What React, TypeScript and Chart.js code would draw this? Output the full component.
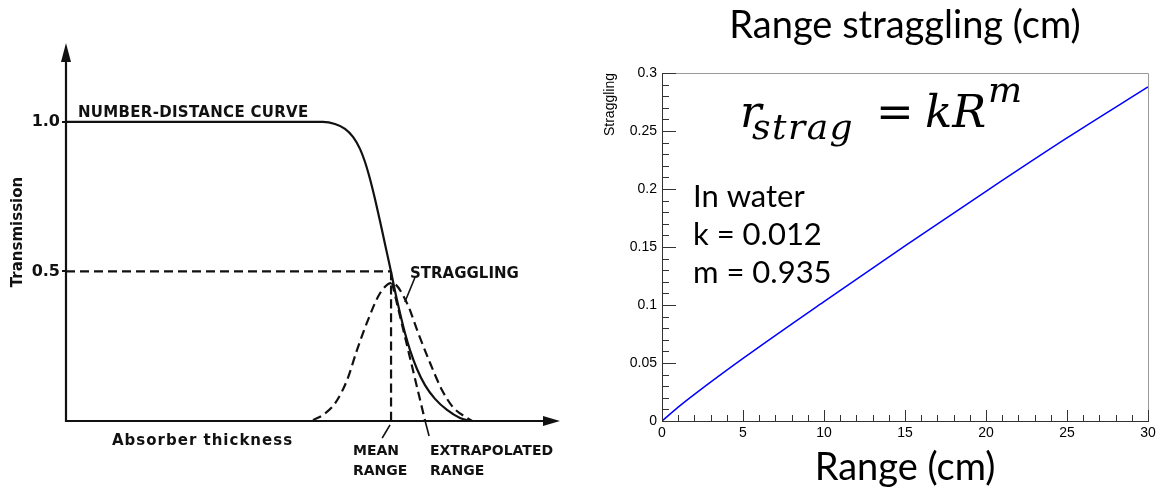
import React, { useEffect, useRef } from "react";
import { Chart, registerables } from "chart.js";

Chart.register(...registerables);

// ---------- Left panel: schematic (abstract units: thickness 0-100, transmission 0-1.26) ----------
const numberDistanceX = [0, 52.0, 54.45, 56.48, 58.1, 59.51, 60.53, 61.54, 62.55, 63.56, 64.57, 65.59, 66.6, 67.61, 68.62, 69.64, 71.05, 72.67, 74.7, 77.13, 79.76, 81.78];
const numberDistanceY = [1.0, 1.0, 0.993, 0.977, 0.95, 0.91, 0.866, 0.809, 0.742, 0.669, 0.592, 0.515, 0.435, 0.361, 0.294, 0.237, 0.174, 0.12, 0.074, 0.037, 0.01, 0];
const stragglingCurveX = [50.0, 52.0, 54.5, 56.9, 58.9, 60.9, 63.6, 66.0, 69.0, 71.3, 73.7, 76.1, 78.3, 81.2, 82.2];
const stragglingCurveY = [0.003, 0.02, 0.06, 0.137, 0.237, 0.328, 0.428, 0.462, 0.395, 0.294, 0.194, 0.104, 0.047, 0.01, 0];
const halfLineX = [0, 65.8];
const halfLineY = [0.5, 0.5];
const meanRangeX = [65.8, 65.8];
const meanRangeY = [0.5, 0];
const extrapolatedX = [66.0, 72.7];
const extrapolatedY = [0.462, 0];
const meanLeaderX = [65.6, 64.0];
const meanLeaderY = [-0.013, -0.057];
const extrapLeaderX = [72.7, 73.5];
const extrapLeaderY = [0, -0.05];
const stragLeaderX = [70.6, 68.6];
const stragLeaderY = [0.478, 0.398];
const transmissionTicks = [0.5, 1.0];

// ---------- Right panel: straggling vs range ----------
const rangeCm = [0, 1, 2, 5, 10, 15, 20, 25, 30];
const stragglingCm = [0, 0.012, 0.023, 0.054, 0.103, 0.151, 0.198, 0.244, 0.288];
const infoLines = ["In water", "k = 0.012", "m = 0.935"];

const toPts = (xs: number[], ys: number[]) => xs.map((x, i) => ({ x, y: ys[i] }));

const INK = "#111";

const leftAnnotations = {
  id: "leftAnnotations",
  afterDraw(chart: any) {
    const { ctx, chartArea: a } = chart;
    ctx.save();
    ctx.strokeStyle = INK;
    ctx.fillStyle = INK;
    ctx.lineWidth = 2.2;
    // y axis with arrow
    ctx.beginPath();
    ctx.moveTo(a.left, a.bottom + 1);
    ctx.lineTo(a.left, a.top + 15);
    ctx.stroke();
    ctx.beginPath();
    ctx.moveTo(a.left, a.top);
    ctx.lineTo(a.left - 5, a.top + 19);
    ctx.lineTo(a.left + 5, a.top + 19);
    ctx.closePath();
    ctx.fill();
    // x axis with arrow
    ctx.beginPath();
    ctx.moveTo(a.left, a.bottom);
    ctx.lineTo(a.right - 15, a.bottom);
    ctx.stroke();
    ctx.beginPath();
    ctx.moveTo(a.right, a.bottom);
    ctx.lineTo(a.right - 17, a.bottom - 5);
    ctx.lineTo(a.right - 17, a.bottom + 5);
    ctx.closePath();
    ctx.fill();

    // text labels
    ctx.textBaseline = "alphabetic";
    ctx.textAlign = "left";
    (ctx as any).letterSpacing = "0.3px";
    ctx.font = "bold 15px 'DejaVu Sans'";
    ctx.fillText("NUMBER-DISTANCE CURVE", 78, 117);
    (ctx as any).letterSpacing = "0px";
    ctx.fillText("STRAGGLING", 410, 278);
    ctx.font = "bold 14px 'DejaVu Sans'";
    ctx.fillText("MEAN", 353, 455);
    ctx.fillText("RANGE", 353, 475);
    ctx.fillText("EXTRAPOLATED", 430, 455);
    ctx.fillText("RANGE", 430, 475);
    (ctx as any).letterSpacing = "1px";
    ctx.font = "bold 15px 'DejaVu Sans'";
    ctx.fillText("Absorber thickness", 112, 445);
    (ctx as any).letterSpacing = "0px";
    ctx.restore();
  },
};

const rightDecor = {
  id: "rightDecor",
  afterDraw(chart: any) {
    const { ctx, chartArea: a, scales } = chart;
    const xs = scales.x;
    const ys = scales.y;
    ctx.save();
    // frame top / right
    ctx.strokeStyle = "#9a9a9a";
    ctx.lineWidth = 1;
    ctx.beginPath();
    ctx.moveTo(a.left, a.top + 0.5);
    ctx.lineTo(a.right + 0.5, a.top + 0.5);
    ctx.lineTo(a.right + 0.5, a.bottom);
    ctx.stroke();
    // inner ticks
    ctx.strokeStyle = "#333";
    ctx.beginPath();
    for (let i = 0; i <= 30; i++) {
      const y = Math.round(ys.getPixelForValue(i / 100)) + 0.5;
      const len = i % 5 === 0 ? 14 : 7;
      ctx.moveTo(a.left, y);
      ctx.lineTo(a.left + len, y);
    }
    for (let i = 0; i <= 30; i++) {
      const x = Math.round(xs.getPixelForValue(i)) + 0.5;
      const len = i % 5 === 0 ? 11 : 6;
      ctx.moveTo(x, a.bottom);
      ctx.lineTo(x, a.bottom - len);
    }
    ctx.stroke();

    // formula
    ctx.fillStyle = "#000";
    ctx.textBaseline = "alphabetic";
    ctx.textAlign = "left";
    ctx.font = "italic 45px 'DejaVu Serif'";
    ctx.fillText("r", 160, 127);
    (ctx as any).letterSpacing = "1.5px";
    ctx.font = "italic 36px 'DejaVu Serif'";
    ctx.fillText("strag", 172, 139);
    (ctx as any).letterSpacing = "0px";
    ctx.font = "45px 'DejaVu Serif'";
    ctx.fillText("=", 296, 127);
    ctx.font = "italic 45px 'DejaVu Serif'";
    ctx.fillText("kR", 345, 127);
    ctx.font = "italic 36px 'DejaVu Serif'";
    ctx.fillText("m", 408, 102);

    // info text
    ctx.font = "31px Lato";
    infoLines.forEach((t, i) => ctx.fillText(t, 113, 207 + i * 38));
    ctx.restore();
  },
};

export default function App() {
  const leftRef = useRef<HTMLCanvasElement>(null);
  const rightRef = useRef<HTMLCanvasElement>(null);

  useEffect(() => {
    const solid = (xs: number[], ys: number[], width = 2.2) => ({
      data: toPts(xs, ys),
      showLine: true,
      borderColor: INK,
      borderWidth: width,
      pointRadius: 0,
      clip: false as any,
      cubicInterpolationMode: "monotone" as const,
    });
    const dashed = (xs: number[], ys: number[]) => ({
      ...solid(xs, ys),
      borderDash: [9, 5],
    });

    const left = new Chart(leftRef.current!, {
      type: "scatter",
      data: {
        datasets: [
          solid(numberDistanceX, numberDistanceY),
          dashed(stragglingCurveX, stragglingCurveY),
          dashed(halfLineX, halfLineY),
          dashed(meanRangeX, meanRangeY),
          dashed(extrapolatedX, extrapolatedY),
          solid(meanLeaderX, meanLeaderY, 1.6),
          solid(extrapLeaderX, extrapLeaderY, 1.6),
          solid(stragLeaderX, stragLeaderY, 1.6),
        ],
      },
      options: {
        animation: false,
        responsive: false,
        events: [],
        layout: { padding: { left: 9, right: 20, top: 43, bottom: 71 } },
        plugins: { legend: { display: false }, tooltip: { enabled: false } },
        scales: {
          x: { type: "linear", display: false, min: 0, max: 100 },
          y: {
            type: "linear",
            min: 0,
            max: 1.264,
            afterFit: (s: any) => {
              s.width = 57;
            },
            afterBuildTicks: (s: any) => {
              s.ticks = transmissionTicks.map((v) => ({ value: v }));
            },
            ticks: {
              callback: (v: any) => Number(v).toFixed(1),
              font: { family: "DejaVu Sans", size: 16, weight: "bold" },
              color: INK,
              padding: 2,
            },
            grid: { drawOnChartArea: false, drawTicks: true, tickLength: 4, color: INK, lineWidth: 2 },
            border: { display: false },
            title: {
              display: true,
              text: "Transmission",
              font: { family: "DejaVu Sans", size: 15, weight: "bold" },
              color: INK,
              padding: 0,
            },
          },
        },
      },
      plugins: [leftAnnotations],
    });

    const right = new Chart(rightRef.current!, {
      type: "scatter",
      data: {
        datasets: [
          {
            data: toPts(rangeCm, stragglingCm),
            showLine: true,
            borderColor: "#0000ff",
            borderWidth: 1.5,
            pointRadius: 0,
            cubicInterpolationMode: "monotone",
          },
        ],
      },
      options: {
        animation: false,
        responsive: false,
        events: [],
        layout: { padding: { left: 22, right: 13, top: 0, bottom: 0 } },
        plugins: {
          legend: { display: false },
          tooltip: { enabled: false },
          title: {
            display: true,
            text: "Range straggling (cm)",
            fullSize: false,
            font: { family: "Lato", size: 38, weight: "normal" },
            color: "#000",
            padding: { top: 3, bottom: 24.4 },
          },
        },
        scales: {
          x: {
            type: "linear",
            min: 0,
            max: 30,
            afterFit: (s: any) => {
              s.height = 71;
            },
            ticks: {
              stepSize: 5,
              font: { family: "Liberation Sans", size: 14 },
              color: "#000",
              padding: 4,
              maxRotation: 0,
            },
            grid: { drawOnChartArea: false, drawTicks: false },
            border: { display: true, color: "#333", width: 1 },
            title: {
              display: true,
              text: "Range (cm)",
              font: { family: "Lato", size: 38 },
              color: "#000",
              padding: { top: 0, bottom: 1 },
            },
          },
          y: {
            type: "linear",
            min: 0,
            max: 0.3,
            afterFit: (s: any) => {
              s.width = 60;
            },
            ticks: {
              stepSize: 0.05,
              callback: (v: any) => String(parseFloat(Number(v).toFixed(2))),
              font: { family: "Liberation Sans", size: 14 },
              color: "#000",
              padding: 5,
            },
            grid: { drawOnChartArea: false, drawTicks: false },
            border: { display: true, color: "#333", width: 1 },
            title: {
              display: true,
              text: "Straggling",
              align: "end",
              font: { family: "Liberation Sans", size: 14 },
              color: "#000",
              padding: 0,
            },
          },
        },
      },
      plugins: [rightDecor],
    });

    return () => {
      left.destroy();
      right.destroy();
    };
  }, []);

  return (
    <div style={{ position: "absolute", left: 0, top: 0, width: 1161, height: 492, background: "#fff" }}>
      <canvas ref={leftRef} width={580} height={492} style={{ position: "absolute", left: 0, top: 0 }} />
      <canvas ref={rightRef} width={581} height={492} style={{ position: "absolute", left: 580, top: 0 }} />
    </div>
  );
}
